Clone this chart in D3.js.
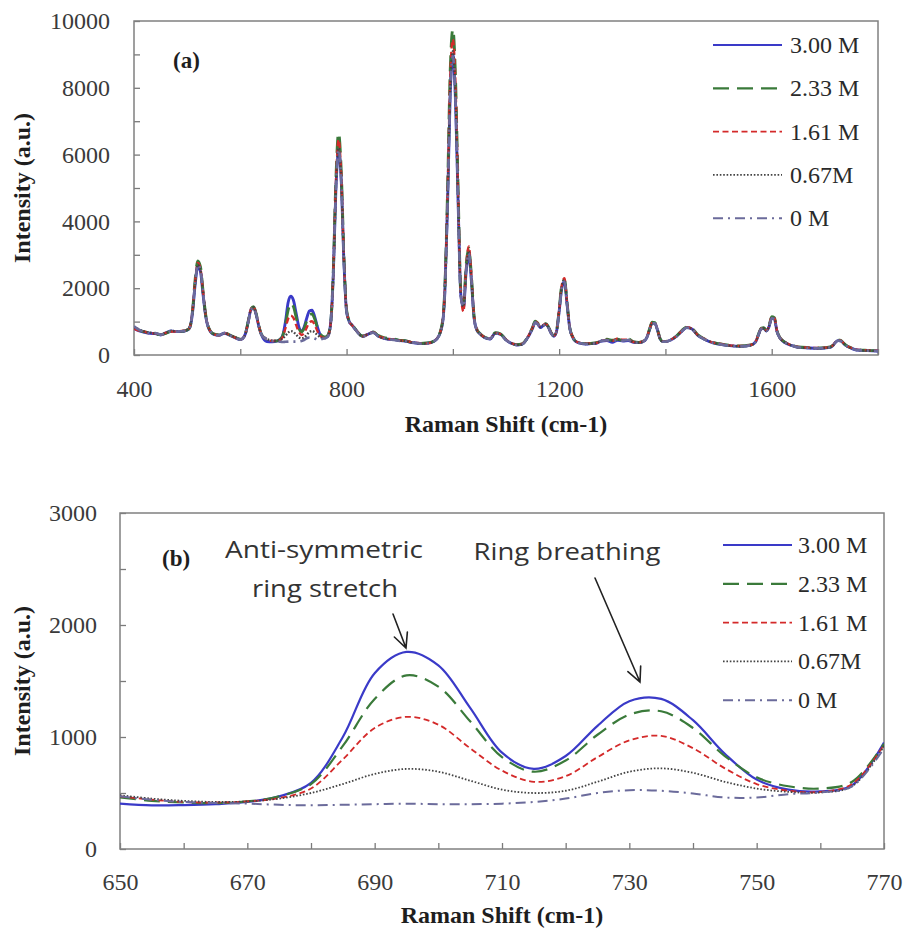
<!DOCTYPE html>
<html>
<head>
<meta charset="utf-8">
<script src="https://cdnjs.cloudflare.com/ajax/libs/d3/7.8.5/d3.min.js"></script>
<style>
  html, body { margin: 0; padding: 0; background: #fff; }
  svg { display: block; }
</style>
</head>
<body>
<div id="chart"></div>
<script>
// ---- Panel (a): full Raman spectra, 400-1800 cm-1 ----
const aShift = [
  400,410,420,430,440,450,460,470,480,490,
  500,505,510,515,520,525,530,535,540,550,
  560,570,580,590,600,605,610,615,620,625,
  630,635,640,650,660,670,675,680,685,690,
  695,700,705,710,715,720,725,730,735,740,
  745,750,755,760,765,770,775,780,785,790,
  795,800,805,810,815,820,830,840,850,860,
  870,880,890,900,910,920,930,940,950,960,
  970,980,985,990,995,1000,1005,1010,1015,1020,
  1025,1030,1035,1040,1045,1050,1060,1070,1080,1090,
  1100,1110,1120,1130,1140,1150,1155,1160,1165,1170,
  1175,1180,1185,1190,1195,1200,1205,1210,1215,1220,
  1225,1230,1240,1250,1260,1270,1280,1290,1300,1310,
  1320,1330,1340,1350,1360,1365,1370,1375,1380,1385,
  1390,1395,1400,1410,1420,1430,1440,1450,1460,1470,
  1480,1490,1500,1520,1540,1560,1570,1575,1580,1585,
  1590,1595,1600,1605,1610,1615,1620,1630,1640,1650,
  1670,1690,1700,1710,1715,1720,1725,1730,1735,1740,
  1750,1760,1780,1800
];
const aI300 = [
  800,720,680,650,640,600,660,720,700,700,
  740,820,1250,2100,2650,2500,1800,1150,820,620,
  590,650,590,520,460,500,650,1000,1350,1420,
  1200,850,600,405,392,420,470,590,1000,1570,
  1760,1640,1260,860,715,830,1100,1320,1340,1150,
  850,620,530,515,570,950,2400,5000,6100,5200,
  2800,1300,1000,900,800,700,560,620,680,560,
  500,470,460,430,420,380,360,340,350,380,
  480,900,1900,4500,7800,9000,7600,4500,1800,1400,
  2500,3000,2200,1100,750,650,520,480,650,620,
  450,350,300,320,500,800,980,920,820,880,
  920,820,650,560,700,1300,2000,2200,1500,800,
  550,420,350,330,340,350,420,430,380,440,
  420,430,380,370,420,520,750,950,950,750,
  480,400,400,450,550,700,820,780,600,500,
  420,360,330,280,260,290,400,600,780,800,
  720,850,1100,1080,700,520,430,330,270,230,
  210,200,210,230,280,380,430,420,350,280,
  200,150,130,120
];
const aI233 = [
  820,740,690,660,630,610,650,710,690,710,
  750,830,1300,2250,2820,2650,1900,1200,840,630,
  600,670,600,530,470,510,660,1020,1380,1450,
  1230,870,610,460,415,425,470,580,920,1340,
  1550,1450,1140,820,690,790,1020,1200,1230,1080,
  830,640,560,540,600,940,2500,5300,6650,5500,
  2950,1350,1020,910,810,700,570,630,690,580,
  520,500,480,440,430,390,370,350,360,390,
  490,950,2050,4900,8500,9750,8300,4900,1900,1500,
  2700,3200,2350,1150,780,660,530,490,670,630,
  460,360,310,330,510,830,1010,950,850,900,
  940,840,670,580,720,1350,2100,2250,1550,820,
  560,430,360,340,350,370,440,470,440,470,
  440,480,400,380,430,530,770,980,970,770,
  490,410,410,460,560,720,840,800,620,510,
  430,370,340,290,270,300,410,620,800,820,
  740,880,1150,1120,720,530,440,340,280,240,
  220,210,220,240,290,400,450,440,360,290,
  210,160,140,130
];
const aI161 = [
  790,730,700,640,650,600,670,700,700,720,
  740,830,1300,2200,2760,2600,1880,1180,830,620,
  590,660,590,520,460,500,650,1000,1370,1440,
  1220,860,610,470,420,425,455,540,800,1080,
  1180,1110,900,700,600,650,820,970,1010,900,
  720,580,520,510,580,930,2450,5200,6450,5400,
  2900,1330,1010,900,800,700,560,620,680,570,
  510,480,470,430,430,390,370,350,350,380,
  490,930,2000,4800,8300,9450,8100,4800,1850,1300,
  2650,3250,2350,1150,770,660,530,490,660,620,
  460,360,310,330,510,820,1000,940,840,900,
  930,830,660,570,710,1340,2100,2300,1550,820,
  560,430,360,340,350,360,430,450,420,500,
  460,460,390,380,430,530,760,970,960,760,
  490,410,410,460,560,710,830,790,610,510,
  430,370,340,290,270,300,410,610,790,810,
  730,870,1140,1110,710,530,440,340,280,240,
  220,210,220,240,290,390,440,430,360,290,
  210,160,140,130
];
const aI067 = [
  840,760,700,670,640,620,660,720,710,700,
  760,840,1280,2150,2700,2550,1850,1170,830,630,
  600,650,600,530,470,500,650,1000,1360,1430,
  1210,860,600,480,430,425,450,500,580,670,
  715,690,610,530,500,520,600,690,720,680,
  600,540,510,505,560,920,2400,5050,6200,5250,
  2850,1320,1000,900,800,690,560,620,680,560,
  500,470,460,430,420,380,360,340,350,380,
  480,910,1950,4600,7900,9100,7700,4600,1800,1450,
  2550,3100,2250,1120,760,650,520,480,650,620,
  450,350,300,320,500,810,990,930,830,890,
  930,830,660,570,700,1320,2050,2250,1520,810,
  550,420,350,330,340,360,430,450,430,460,
  440,450,390,370,420,520,750,960,950,750,
  480,400,400,450,550,700,820,780,600,500,
  420,360,330,280,260,290,400,600,780,800,
  720,860,1120,1090,700,520,430,330,270,230,
  210,200,210,230,280,380,430,420,350,280,
  200,150,130,120
];
const aI000 = [
  860,750,690,660,660,610,650,710,700,710,
  750,830,1280,2150,2700,2550,1850,1160,830,620,
  590,660,590,520,460,500,650,990,1350,1420,
  1200,850,600,470,420,405,395,390,395,400,
  405,400,400,405,420,450,500,525,520,495,
  460,460,490,505,560,900,2400,5000,6150,5200,
  2800,1300,1000,890,790,690,550,610,670,560,
  500,470,450,420,410,380,360,340,340,380,
  480,900,1900,4500,7800,8950,7600,4500,1750,1450,
  2550,3050,2250,1100,750,650,520,480,650,610,
  450,350,300,320,500,800,980,920,820,880,
  920,820,650,560,700,1300,2000,2200,1500,800,
  550,420,350,330,340,350,420,440,420,450,
  430,450,380,370,420,520,750,950,950,750,
  480,400,400,450,550,700,820,780,600,500,
  420,360,330,280,260,290,400,600,780,800,
  720,850,1100,1080,700,520,430,330,270,230,
  210,200,210,230,280,380,430,420,350,280,
  200,150,130,120
];

// ---- Panel (b): ring-mode region, 650-770 cm-1 ----
const bShift = [650,655,660,665,670,675,680,685,690,695,700,705,710,
                715,720,725,730,735,740,745,750,755,760,765,770];
const bI300 = [405,390,392,400,420,470,590,1000,1570,1760,1640,1260,860,
               715,830,1100,1320,1340,1150,850,620,530,515,570,950];
const bI233 = [460,430,415,410,425,470,580,920,1340,1550,1450,1140,820,
               690,790,1020,1200,1230,1080,830,640,560,540,600,940];
const bI161 = [470,440,420,415,425,455,540,800,1080,1180,1110,900,700,
               600,650,820,970,1010,900,720,580,520,510,580,930];
const bI067 = [480,450,430,420,425,450,500,580,670,715,690,610,530,
               500,520,600,690,720,680,600,540,510,505,560,920];
const bI000 = [470,440,420,410,405,395,390,395,400,405,400,400,405,
               420,450,500,525,520,495,460,460,490,505,560,900];

// ---- Series labels and tick values ----
const seriesNames = ["3.00 M", "2.33 M", "1.61 M", "0.67M", "0 M"];
const aXTicks = [400,600,800,1000,1200,1400,1600,1800];
const aXLabels = [400,800,1200,1600];
const aYTicks = [0,1000,2000,3000,4000,5000,6000,7000,8000,9000,10000];
const aYLabels = [0,2000,4000,6000,8000,10000];
const bXTicks = [650,660,670,680,690,700,710,720,730,740,750,760,770];
const bXLabels = [650,670,690,710,730,750,770];
const bYTicks = [0,500,1000,1500,2000,2500,3000];
const bYLabels = [0,1000,2000,3000];

// Line styles for each concentration
const styles = [
  { color: "#3a3ac8", dash: null,        width: 2.2 },
  { color: "#3a7a3a", dash: "16,8",      width: 2.2 },
  { color: "#d42a2a", dash: "6,3.5",     width: 1.8 },
  { color: "#444444", dash: "1.6,1.8",   width: 1.8 },
  { color: "#6b6b9b", dash: "10,5,2,5",  width: 2.0 }
];

const W = 907, H = 930;
const svg = d3.select("#chart").append("svg")
  .attr("width", W).attr("height", H)
  .attr("font-family", "'Liberation Serif', 'Times New Roman', serif");

function panel(cfg) {
  const x = d3.scaleLinear().domain(cfg.xDomain).range([cfg.left, cfg.right]);
  const y = d3.scaleLinear().domain(cfg.yDomain).range([cfg.bottom, cfg.top]);
  const g = svg.append("g");

  const clipId = "clip-" + cfg.id;
  svg.append("clipPath").attr("id", clipId).append("rect")
    .attr("x", cfg.left).attr("y", cfg.top)
    .attr("width", cfg.right - cfg.left).attr("height", cfg.bottom - cfg.top);

  // x axis
  const xAxis = d3.axisBottom(x)
    .tickValues(cfg.xTicks)
    .tickSizeInner(-6).tickSizeOuter(0)
    .tickPadding(cfg.xPad)
    .tickFormat(d => cfg.xLabels.includes(d) ? String(d) : "");
  const gx = g.append("g").attr("transform", `translate(0,${cfg.bottom})`).call(xAxis);

  // y axis
  const yAxis = d3.axisLeft(y)
    .tickValues(cfg.yTicks)
    .tickSizeInner(-6).tickSizeOuter(0)
    .tickPadding(cfg.yPad)
    .tickFormat(d => cfg.yLabels.includes(d) ? String(d) : "");
  const gy = g.append("g").attr("transform", `translate(${cfg.left},0)`).call(yAxis);

  [gx, gy].forEach(a => {
    a.select(".domain").remove();
    a.selectAll(".tick line").attr("stroke", "#7a7a7a").attr("stroke-width", 1.3);
    a.selectAll(".tick text")
      .attr("font-family", "'Liberation Serif', 'Times New Roman', serif")
      .attr("font-size", 24).attr("fill", "#3a3a3a");
  });

  // plot frame
  g.append("rect")
    .attr("x", cfg.left).attr("y", cfg.top)
    .attr("width", cfg.right - cfg.left).attr("height", cfg.bottom - cfg.top)
    .attr("fill", "none").attr("stroke", "#808080").attr("stroke-width", 1.5);

  // spectra
  const line = d3.line()
    .x(d => x(d[0])).y(d => y(d[1]))
    .curve(cfg.curve);
  const lines = g.append("g").attr("clip-path", `url(#${clipId})`);
  cfg.series.forEach((vals, i) => {
    const pts = cfg.shift.map((s, k) => [s, vals[k]]);
    lines.append("path")
      .datum(pts)
      .attr("d", line)
      .attr("fill", "none")
      .attr("stroke", styles[i].color)
      .attr("stroke-width", styles[i].width * cfg.lineScale)
      .attr("stroke-dasharray", styles[i].dash)
      .attr("stroke-linejoin", "round");
  });

  // axis titles
  g.append("text")
    .attr("x", (cfg.left + cfg.right) / 2).attr("y", cfg.xTitleY)
    .attr("text-anchor", "middle")
    .attr("font-size", 24).attr("font-weight", "bold").attr("fill", "#1e1e1e")
    .text("Raman Shift (cm-1)");
  g.append("text")
    .attr("transform", `translate(${cfg.yTitleX},${(cfg.top + cfg.bottom) / 2}) rotate(-90)`)
    .attr("text-anchor", "middle")
    .attr("font-size", 24).attr("font-weight", "bold").attr("fill", "#1e1e1e")
    .text("Intensity (a.u.)");

  // panel tag
  g.append("text")
    .attr("x", cfg.tag[0]).attr("y", cfg.tag[1])
    .attr("font-size", 23).attr("font-weight", "bold").attr("fill", "#1e1e1e")
    .text(cfg.tagText);

  // legend
  const lg = g.append("g");
  seriesNames.forEach((name, i) => {
    const yy = cfg.legend.y0 + i * cfg.legend.dy;
    lg.append("line")
      .attr("x1", cfg.legend.x1).attr("x2", cfg.legend.x2)
      .attr("y1", yy).attr("y2", yy)
      .attr("stroke", styles[i].color)
      .attr("stroke-width", styles[i].width)
      .attr("stroke-dasharray", styles[i].dash);
    lg.append("text")
      .attr("x", cfg.legend.tx).attr("y", yy + 8)
      .attr("font-size", 24).attr("fill", "#2a2a2a")
      .text(name);
  });
  return { x, y, g };
}

panel({
  id: "a", xDomain: [400, 1800], yDomain: [0, 10000],
  left: 134, right: 878, top: 21, bottom: 355,
  xTicks: aXTicks, xLabels: aXLabels, yTicks: aYTicks, yLabels: aYLabels,
  xPad: 25, yPad: 24, xTitleY: 432, yTitleX: 30,
  shift: aShift, series: [aI300, aI233, aI161, aI067, aI000],
  curve: d3.curveMonotoneX, lineScale: 1.3,
  tag: [173, 68], tagText: "(a)",
  legend: { x1: 713, x2: 782, tx: 790, y0: 45, dy: 43.3 }
});

const pb = panel({
  id: "b", xDomain: [650, 770], yDomain: [0, 3000],
  left: 120, right: 884, top: 513, bottom: 849,
  xTicks: bXTicks, xLabels: bXLabels, yTicks: bYTicks, yLabels: bYLabels,
  xPad: 24, yPad: 23, xTitleY: 923, yTitleX: 30,
  shift: bShift, series: [bI300, bI233, bI161, bI067, bI000],
  curve: d3.curveCatmullRom.alpha(0.5), lineScale: 1,
  tag: [162, 566], tagText: "(b)",
  legend: { x1: 723, x2: 792, tx: 798, y0: 545, dy: 38.8 }
});

// Band assignments with arrows
const ann = pb.g.append("g")
  .attr("font-family", "'Open Sans', 'Liberation Sans', sans-serif")
  .attr("fill", "#333");
ann.append("text").attr("x", 324).attr("y", 558).attr("text-anchor", "middle")
  .attr("font-size", 23).attr("textLength", 198).attr("lengthAdjust", "spacingAndGlyphs")
  .text("Anti-symmetric");
ann.append("text").attr("x", 325).attr("y", 597).attr("text-anchor", "middle")
  .attr("font-size", 23).attr("textLength", 146).attr("lengthAdjust", "spacingAndGlyphs")
  .text("ring stretch");
ann.append("text").attr("x", 567).attr("y", 560).attr("text-anchor", "middle")
  .attr("font-size", 23).attr("textLength", 187).attr("lengthAdjust", "spacingAndGlyphs")
  .text("Ring breathing");

const arrowG = pb.g.append("g").attr("stroke", "#222").attr("stroke-width", 1.6)
  .attr("fill", "none").attr("stroke-linecap", "round");
function arrow(x0, y0, x1, y1, head) {
  const ang = Math.atan2(y1 - y0, x1 - x0);
  const a1 = ang + Math.PI - 0.45, a2 = ang + Math.PI + 0.45;
  arrowG.append("path").attr("d",
    `M${x0},${y0}L${x1},${y1}` +
    `M${x1 + head * Math.cos(a1)},${y1 + head * Math.sin(a1)}L${x1},${y1}` +
    `L${x1 + head * Math.cos(a2)},${y1 + head * Math.sin(a2)}`);
}
arrow(393, 614, 406, 648, 16);
arrow(595, 578, 640, 682, 16);
</script>
</body>
</html>
